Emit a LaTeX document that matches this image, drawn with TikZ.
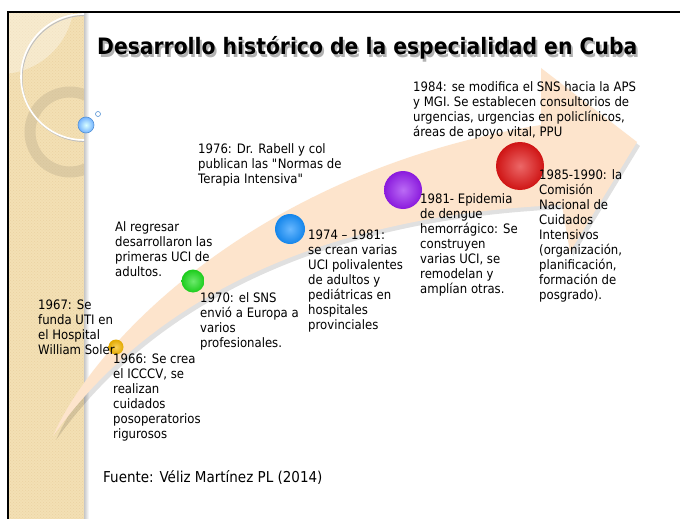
\documentclass[tikz,border=0pt]{standalone}
\usepackage{fontspec}
\setmainfont{DejaVu Sans}[FakeStretch=0.9]
\usepackage{xcolor}
\usetikzlibrary{patterns}

\definecolor{stripbeige}{RGB}{243,224,180}
\definecolor{ringtan}{RGB}{196,180,146}
\definecolor{peach}{RGB}{253,228,204}
\definecolor{orb1966}{RGB}{246,184,0}
\definecolor{orb1970}{RGB}{30,222,30}
\definecolor{orb1974}{RGB}{22,145,255}
\definecolor{orb1981}{RGB}{150,28,240}
\definecolor{orb1985}{RGB}{225,22,22}

\newcommand{\arrowshape}{(53,436) .. controls (95,340) and (260,170) .. (541,125) -- (541,68) -- (637,142) -- (570,252) -- (562,205) .. controls (320,215) and (150,300) .. (53,436) -- cycle}

\tikzset{
  note/.style={anchor=north west, inner sep=0pt, align=left, font=\fontsize{13}{15}\selectfont},
  sphere/.style={circle, inner sep=0pt, shading=radial, inner color=#1!65!white, outer color=#1!92!black},
  headline/.style={anchor=base west, inner sep=0pt, font=\bfseries\fontsize{22.6}{27}\selectfont}
}

\begin{document}
\begin{tikzpicture}[x=1pt,y=1pt,yscale=-1,xscale=1]
	\useasboundingbox (0,0) rectangle (680,519);
	\fill[white] (0,0) rectangle (680,519);

	%Shape: Side strip
	\fill[stripbeige] (9,13) rectangle (84,519);
	\fill[pattern=crosshatch dots, pattern color=stripbeige!70!brown, opacity=0.5] (9,13) rectangle (84,519);
	\shade[left color=black!22, right color=white] (84,13) rectangle (89,519);
	\begin{scope}
		\clip (9,13) rectangle (84,519);
		\fill[white, opacity=0.35] (0,0) circle (74);
		\draw[ringtan, line width=11, opacity=0.45] (70,132) circle (40);
		\draw[black!25, line width=1] (85,78.5) circle (63);
		\draw[white, line width=1.6] (84,77) circle (63);
	\end{scope}
	%Shape: Bubbles
	\node[circle, inner sep=0pt, minimum size=16, shading=radial, inner color=cyan!15, outer color=cyan!45!blue!55, draw=cyan!55!blue!70, line width=0.6] (bubble) at (86,125) {};
	\node[circle, inner sep=0pt, minimum size=5, draw=cyan!55!blue!70, line width=0.6] (bubbletiny) at (98,114) {};

	%Shape: Frame
	\draw[line width=2] (8,519) -- (8,12) -- (680,12);

	% Title
	\node[headline, text=black!30] (titleshade) at (99,57.5) {Desarrollo histórico de la especialidad en Cuba};
	\node[headline] (title) at (97,55) {Desarrollo histórico de la especialidad en Cuba};

	%Shape: Curved arrow
	\fill[black, opacity=0.12, shift={(3,4)}] \arrowshape;
	\fill[peach] \arrowshape;

	% Spheres
	\node[sphere=orb1966, minimum size=15] (s1966) at (116,347) {};
	\node[sphere=orb1970, minimum size=23] (s1970) at (193,281) {};
	\node[sphere=orb1974, minimum size=30] (s1974) at (290,229) {};
	\node[sphere=orb1981, minimum size=38] (s1981) at (403,190) {};
	\node[sphere=orb1985, minimum size=48] (s1985) at (520,166) {};

	% Text Node
	\node[note] (t1984) at (413,81) {1984: se modifica el SNS hacia la APS\\y MGI. Se establecen consultorios de\\urgencias, urgencias en policlínicos,\\áreas de apoyo vital, PPU};
	% Text Node
	\node[note] (t1976) at (198,143) {1976: Dr. Rabell y col\\publican las \textquotedbl Normas de\\Terapia Intensiva\textquotedbl};
	% Text Node
	\node[note] (tregreso) at (115,221) {Al regresar\\desarrollaron las\\primeras UCI de\\adultos.};
	% Text Node
	\node[note] (t1967) at (38,300) {1967: Se\\funda UTI en\\el Hospital\\William Soler};
	% Text Node
	\node[note] (t1966) at (113,354) {1966: Se crea\\el ICCCV, se\\realizan\\cuidados\\posoperatorios\\rigurosos};
	% Text Node
	\node[note] (t1970) at (200,292) {1970: el SNS\\envió a Europa a\\varios\\profesionales.};
	% Text Node
	\node[note] (t1974) at (308,230) {1974 – 1981:\\se crean varias\\UCI polivalentes\\de adultos y\\pediátricas en\\hospitales\\provinciales};
	% Text Node
	\node[note] (t1981) at (420,193) {1981- Epidemia\\de dengue\\hemorrágico: Se\\construyen\\varias UCI, se\\remodelan y\\amplían otras.};
	% Text Node
	\node[note] (t1985) at (539,169) {1985-1990: la\\Comisión\\Nacional de\\Cuidados\\Intensivos\\(organización,\\planificación,\\formación de\\posgrado).};
	% Text Node
	\node[note, font=\fontsize{15}{18}\selectfont] (tfuente) at (103,470) {Fuente: Véliz Martínez PL (2014)};
\end{tikzpicture}
\end{document}
